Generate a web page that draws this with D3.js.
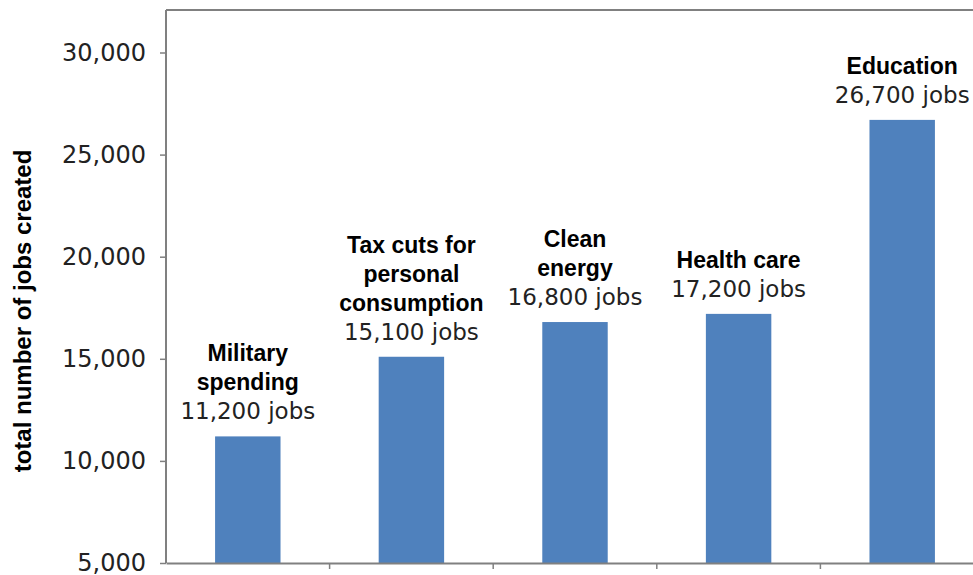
<!DOCTYPE html>
<html>
<head>
<meta charset="utf-8">
<script src="https://cdn.jsdelivr.net/npm/d3@7"></script>
<style>
  body { margin: 0; background: #fff; }
  svg { display: block; }
</style>
</head>
<body>
<svg width="973" height="575"></svg>
<script>
// data
const categories = ["Military spending", "Tax cuts for personal consumption", "Clean energy", "Health care", "Education"];
const labelLines = [["Military", "spending"], ["Tax cuts for", "personal", "consumption"], ["Clean", "energy"], ["Health care"], ["Education"]];
const jobs = [11200, 15100, 16800, 17200, 26700];
const yTicks = [5000, 10000, 15000, 20000, 25000, 30000];

const svg = d3.select("svg");
const plotLeft = 166, plotTop = 10, plotBottom = 563, plotRight = 984;

const x = d3.scaleBand()
    .domain(categories)
    .range([plotLeft, plotRight]);

const y = d3.scaleLinear()
    .domain([5000, 30000])
    .range([plotBottom, 52.5]);

const barW = x.bandwidth() * 0.4;
const fmt = d3.format(",");

// bars
svg.selectAll("rect.bar")
    .data(jobs)
    .join("rect")
    .attr("class", "bar")
    .attr("x", (d, i) => x(categories[i]) + x.bandwidth() / 2 - barW / 2)
    .attr("y", d => y(d))
    .attr("width", barW)
    .attr("height", d => y(5000) - y(d))
    .attr("fill", "#4f81bd");

// frame: top line and axes
svg.append("line")
    .attr("x1", plotLeft).attr("x2", 973)
    .attr("y1", plotTop).attr("y2", plotTop)
    .attr("stroke", "#808080").attr("stroke-width", 2);

const yAxis = svg.append("g")
    .attr("transform", `translate(${plotLeft},0)`)
    .call(d3.axisLeft(y).tickValues(yTicks).tickFormat(fmt).tickSize(6).tickPadding(14));
yAxis.select(".domain").remove();
yAxis.append("line")
    .attr("x1", 0).attr("x2", 0)
    .attr("y1", plotTop).attr("y2", plotBottom)
    .attr("stroke", "#808080").attr("stroke-width", 2);

const xAxis = svg.append("g")
    .attr("transform", `translate(0,${plotBottom})`)
    .call(d3.axisBottom(x).tickSize(0).tickFormat(""));
xAxis.select(".domain").attr("stroke", "#808080").attr("stroke-width", 2);

// boundaries between categories get the small tick marks
xAxis.selectAll("line.sep")
    .data(categories.slice(1))
    .join("line")
    .attr("class", "sep")
    .attr("x1", d => x(d)).attr("x2", d => x(d))
    .attr("y1", 0).attr("y2", 6)
    .attr("stroke", "#808080").attr("stroke-width", 1.5);

svg.selectAll(".tick line").attr("stroke", "#808080").attr("stroke-width", 1.5);
yAxis.selectAll(".tick text")
    .attr("font-family", "DejaVu Sans, sans-serif")
    .attr("font-size", 24)
    .attr("fill", "#222");

// labels above each bar
const lab = svg.selectAll("g.lab")
    .data(jobs)
    .join("g")
    .attr("class", "lab")
    .attr("transform", (d, i) => `translate(${x(categories[i]) + x.bandwidth() / 2},${y(d) - 17})`);

lab.append("text")
    .attr("text-anchor", "middle")
    .attr("font-family", "DejaVu Sans, sans-serif")
    .attr("font-size", 23)
    .attr("fill", "#222")
    .text(d => fmt(d) + " jobs");

lab.each(function(d, i) {
    const lines = labelLines[i];
    d3.select(this).selectAll("text.name")
        .data(lines)
        .join("text")
        .attr("class", "name")
        .attr("text-anchor", "middle")
        .attr("y", (t, j) => -29 * (lines.length - j))
        .attr("font-family", "Liberation Sans, Arial, sans-serif")
        .attr("font-weight", "bold")
        .attr("font-size", 23)
        .attr("fill", "#000")
        .text(t => t);
});

// y axis title
svg.append("text")
    .attr("transform", "translate(31,311) rotate(-90)")
    .attr("text-anchor", "middle")
    .attr("font-family", "Liberation Sans, Arial, sans-serif")
    .attr("font-weight", "bold")
    .attr("font-size", 24)
    .text("total number of jobs created");
</script>
</body>
</html>
